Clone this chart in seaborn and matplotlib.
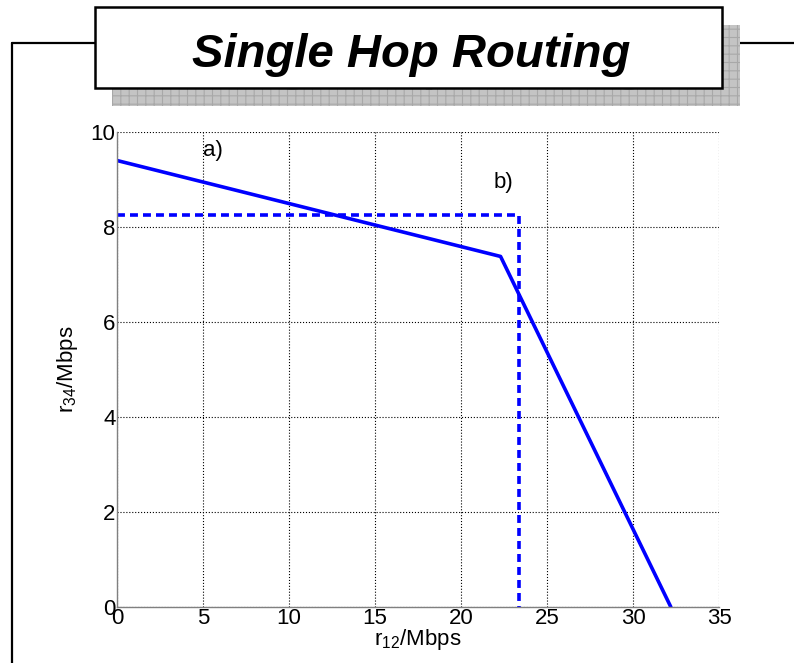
import matplotlib
matplotlib.use("Agg")
import matplotlib.pyplot as plt
import seaborn as sns
import pandas as pd
from matplotlib.patches import Rectangle
from matplotlib.lines import Line2D

# Data
curve_a_x = [0.0, 22.3, 32.2]
curve_a_y = [9.4, 7.38, 0.0]
curve_b_x = [0.0, 23.4, 23.4]
curve_b_y = [8.25, 8.25, 0.0]
x_ticks = [0, 5, 10, 15, 20, 25, 30, 35]
y_ticks = [0, 2, 4, 6, 8, 10]
title_text = "Single Hop Routing"

sns.set_style("white")
plt.rcParams['font.family'] = ['Liberation Sans', 'DejaVu Sans']
plt.rcParams['mathtext.fontset'] = 'custom'
plt.rcParams['mathtext.rm'] = 'Liberation Sans'
plt.rcParams['text.color'] = 'black'
plt.rcParams['axes.labelcolor'] = 'black'
plt.rcParams['xtick.color'] = 'black'
plt.rcParams['ytick.color'] = 'black'

W, H = 794, 663
fig = plt.figure(figsize=(W / 100, H / 100), dpi=100)

def fx(px):
    return px / W

def fy(py):
    return 1 - py / H

# Slide frame lines
fig.add_artist(Line2D([fx(12), fx(12)], [fy(43), fy(663)], transform=fig.transFigure, color='black', lw=1.6, zorder=1))
fig.add_artist(Line2D([fx(12), fx(100)], [fy(43), fy(43)], transform=fig.transFigure, color='black', lw=1.6, zorder=1))
fig.add_artist(Line2D([fx(700), fx(794)], [fy(43), fy(43)], transform=fig.transFigure, color='black', lw=1.6, zorder=1))

# Shadow box
plt.rcParams['hatch.color'] = '#a8a8a8'
plt.rcParams['hatch.linewidth'] = 0.8
shadow = Rectangle((fx(112), fy(106)), fx(740) - fx(112), fy(25) - fy(106), transform=fig.transFigure,
                   facecolor='#c4c4c4', edgecolor='#a8a8a8', hatch='++', lw=0, zorder=2)
fig.add_artist(shadow)
fig.text(fx(428), fy(80), title_text, transform=fig.transFigure, ha='center', va='baseline',
         fontsize=34, fontweight='bold', fontstyle='italic', color='#969696', zorder=3)

# Title box
box = Rectangle((fx(95), fy(88)), fx(722) - fx(95), fy(7) - fy(88), transform=fig.transFigure,
                facecolor='white', edgecolor='black', lw=1.8, zorder=4)
fig.add_artist(box)
fig.text(fx(411), fy(67), title_text, transform=fig.transFigure, ha='center', va='baseline',
         fontsize=34, fontweight='bold', fontstyle='italic', color='black', zorder=5)

# Axes
ax = fig.add_axes([fx(117), fy(607), fx(719) - fx(117), fy(132) - fy(607)])
df_a = pd.DataFrame({'x': curve_a_x, 'y': curve_a_y})
df_b = pd.DataFrame({'x': curve_b_x, 'y': curve_b_y})
sns.lineplot(data=df_a, x='x', y='y', ax=ax, color='#0000ff', lw=2.6, sort=False, estimator=None)
sns.lineplot(data=df_b, x='x', y='y', ax=ax, color='#0000ff', lw=2.6, sort=False, estimator=None,
             linestyle=(0, (2.2, 1.4)))

ax.set_xlim(0, 35)
ax.set_ylim(0, 10)
ax.set_xticks(x_ticks)
ax.set_yticks(y_ticks)
ax.grid(True, color='black', linestyle=':', lw=0.8)
for s in ['top', 'right']:
    ax.spines[s].set_visible(False)
for s in ['left', 'bottom']:
    ax.spines[s].set_color('#808080')
    ax.spines[s].set_linewidth(1.0)
ax.tick_params(axis='both', labelsize=16, length=0, pad=1, colors='black')
ax.set_xlabel(r'$\mathregular{r_{12}}$/Mbps', fontsize=16, labelpad=-2, color='black')
ax.set_ylabel(r'$\mathregular{r_{34}}$/Mbps', fontsize=16, labelpad=8, color='black')

ax.text(5.0, 9.5, 'a)', fontsize=16, color='black')
ax.text(21.9, 8.82, 'b)', fontsize=16, color='black')

fig.savefig('out.png', dpi=100)
